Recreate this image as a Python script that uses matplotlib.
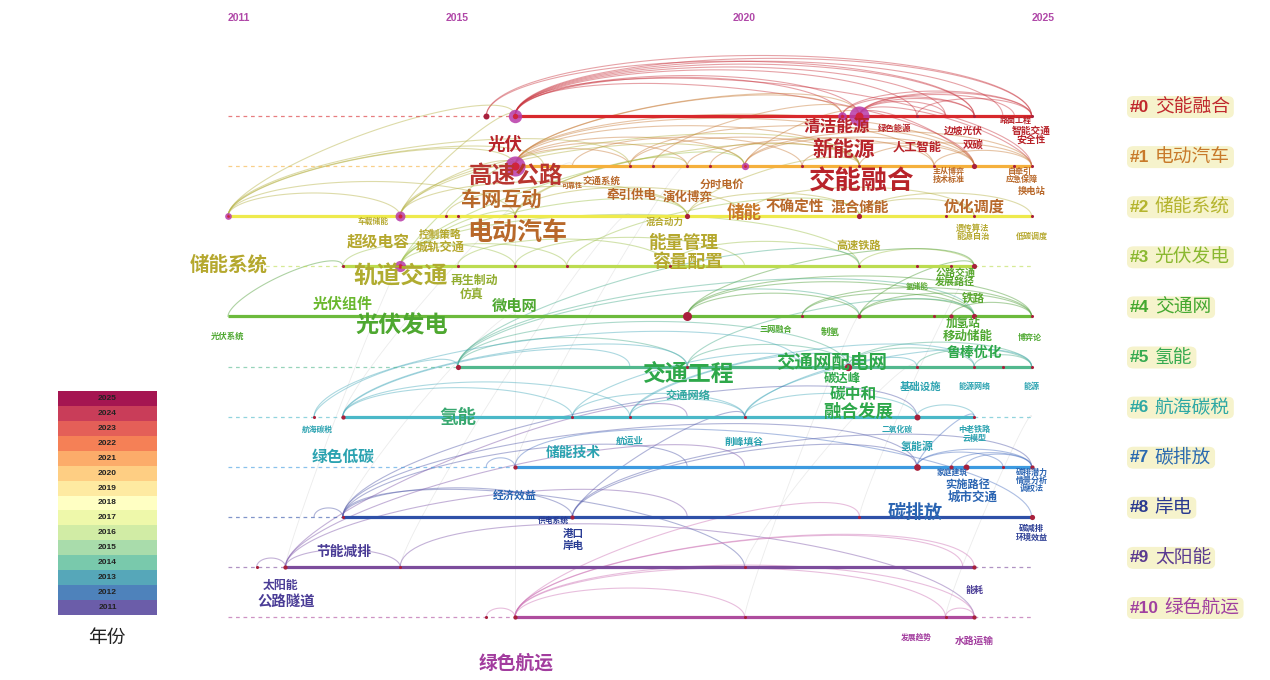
import numpy as np
import matplotlib.pyplot as plt
from matplotlib.patches import FancyBboxPatch

plt.rcParams['font.family'] = ['Noto Sans CJK SC', 'DejaVu Sans']

# ---- data -------------------------------------------------------------
years = list(range(2011, 2026))
axis_years = [2011, 2015, 2020, 2025]

cluster_names = ['交能融合', '电动汽车', '储能系统', '光伏发电', '交通网', '氢能',
                 '航海碳税', '碳排放', '岸电', '太阳能', '绿色航运']
# solid part of each timeline (first / last active year)
cluster_start = [2016, 2016, 2011, 2013, 2011, 2015, 2013, 2016, 2013, 2012, 2016]
cluster_end = [2025, 2025, 2025, 2024, 2025, 2025, 2024, 2025, 2025, 2024, 2024]

# nodes: (cluster, year, frequency, centrality)
nodes = [
    (0, 2015.5, 4, 0), (0, 2016, 20, 0.3), (0, 2021.7, 8, 0.2), (0, 2022, 45, 0.4),
    (0, 2023, 1, 0), (0, 2024, 1, 0), (0, 2025, 1, 0),
    (1, 2016, 45, 0.35), (1, 2018, 1, 0), (1, 2018.4, 1, 0), (1, 2019, 1, 0),
    (1, 2019.4, 1, 0), (1, 2020, 6, 0.15), (1, 2021, 1, 0), (1, 2022, 1, 0),
    (1, 2023.3, 1, 0), (1, 2024, 3, 0), (1, 2024.7, 1, 0), (1, 2025, 1, 0),
    (2, 2011, 5, 0.15), (2, 2014, 11, 0.2), (2, 2014.8, 1, 0), (2, 2015, 1, 0),
    (2, 2016, 1, 0), (2, 2019, 3, 0), (2, 2022, 3, 0), (2, 2023.5, 1, 0),
    (2, 2024, 1, 0), (2, 2025, 1, 0),
    (3, 2013, 1, 0), (3, 2014, 14, 0.25), (3, 2015, 1, 0), (3, 2016, 1, 0),
    (3, 2016.9, 1, 0), (3, 2018.7, 1, 0), (3, 2022, 1, 0), (3, 2023, 1, 0),
    (3, 2023.6, 1, 0), (3, 2024, 3, 0),
    (4, 2019, 9, 0), (4, 2021, 1, 0), (4, 2022, 2, 0), (4, 2023.3, 1, 0),
    (4, 2023.6, 2, 0), (4, 2024, 3, 0), (4, 2025, 1, 0),
    (5, 2015, 3, 0), (5, 2019, 1, 0), (5, 2021.8, 6, 0), (5, 2023, 1, 0),
    (5, 2024, 1, 0), (5, 2024.5, 1, 0), (5, 2025, 1, 0),
    (6, 2012.5, 1, 0), (6, 2013, 2, 0), (6, 2017, 1, 0), (6, 2018, 1, 0),
    (6, 2020, 1, 0), (6, 2023, 4, 0), (6, 2024, 1, 0),
    (7, 2016, 2, 0), (7, 2023, 5, 0), (7, 2023.6, 2, 0), (7, 2023.85, 4, 0),
    (7, 2024.5, 1, 0), (7, 2025, 2, 0),
    (8, 2013, 1, 0), (8, 2017, 2, 0), (8, 2022, 1, 0), (8, 2025, 3, 0),
    (9, 2011.5, 1, 0), (9, 2012, 2, 0), (9, 2014, 1, 0), (9, 2020, 1, 0), (9, 2024, 2, 0),
    (10, 2015.5, 1, 0), (10, 2016, 2, 0), (10, 2020, 1, 0), (10, 2023.5, 1, 0), (10, 2024, 2, 0),
]

# co-occurrence links: (cluster_a, year_a, cluster_b, year_b)
links = [
    (0, 2015.5, 0, 2025), (0, 2016, 0, 2025), (0, 2016, 0, 2024.5), (0, 2016, 0, 2024),
    (0, 2016, 0, 2023), (0, 2016, 0, 2022), (0, 2016, 0, 2021.7), (0, 2016, 1, 2024),
    (0, 2022, 0, 2025), (0, 2022, 0, 2024.7), (0, 2022, 0, 2024), (0, 2022, 0, 2023.5),
    (0, 2021.7, 0, 2025), (0, 2021.7, 0, 2024), (0, 2023, 0, 2025), (0, 2022, 1, 2025),
    (0, 2022, 1, 2024), (0, 2016, 1, 2025), (0, 2016, 0, 2023.5), (0, 2015.5, 0, 2024),
    (1, 2016, 0, 2022), (1, 2016, 1, 2020), (1, 2016, 1, 2022), (1, 2016, 1, 2024),
    (1, 2016, 1, 2018), (1, 2016, 1, 2019), (1, 2017, 1, 2021), (1, 2018, 1, 2022),
    (1, 2019, 1, 2022), (1, 2019.4, 1, 2023.3), (1, 2020, 0, 2022), (1, 2020, 1, 2024),
    (1, 2020, 1, 2025), (1, 2021, 1, 2024), (1, 2022, 1, 2025), (1, 2023.3, 1, 2025),
    (1, 2018.4, 0, 2022), (1, 2016, 0, 2021.7), (1, 2016, 1, 2023.3), (1, 2018, 1, 2024),
    (2, 2011, 1, 2016), (2, 2011, 0, 2016), (2, 2011, 2, 2014), (2, 2011, 1, 2018),
    (2, 2011, 2, 2016), (2, 2014, 1, 2016), (2, 2014, 0, 2016), (2, 2014, 1, 2020),
    (2, 2014, 2, 2019), (2, 2014, 1, 2022), (2, 2014.8, 2, 2019), (2, 2016, 2, 2020),
    (2, 2016, 1, 2019), (2, 2016, 1, 2022), (2, 2019, 2, 2022), (2, 2019, 1, 2022),
    (2, 2020, 2, 2024), (2, 2022, 2, 2024), (2, 2022, 2, 2025), (2, 2011, 1, 2016.5),
    (3, 2014, 1, 2016), (3, 2014, 2, 2016), (3, 2014, 3, 2016.9), (3, 2014, 2, 2019),
    (3, 2014, 3, 2022), (3, 2013, 3, 2016), (3, 2015, 3, 2018.7), (3, 2016, 3, 2020),
    (3, 2018.7, 3, 2022), (3, 2022, 3, 2024), (3, 2014, 1, 2020), (3, 2016.9, 2, 2022),
    (4, 2011, 3, 2013), (4, 2019, 4, 2024), (4, 2019, 4, 2025), (4, 2019, 4, 2022),
    (4, 2021, 4, 2024), (4, 2021, 4, 2025), (4, 2022, 4, 2024), (4, 2022, 4, 2025),
    (4, 2023.6, 4, 2025), (4, 2019, 3, 2024), (4, 2022, 3, 2024),
    (5, 2015, 4, 2022), (5, 2015, 3, 2022), (5, 2015, 4, 2024),
    (5, 2015, 5, 2019), (5, 2015, 5, 2021.8), (5, 2019, 5, 2021.8), (5, 2021.8, 5, 2024),
    (5, 2021.8, 5, 2025), (5, 2023, 5, 2025), (5, 2024, 5, 2025), (5, 2019, 4, 2024),
    (6, 2012.5, 5, 2015), (6, 2013, 5, 2019), (6, 2012.5, 5, 2021),
    (6, 2013, 6, 2017), (6, 2013, 6, 2018), (6, 2017, 6, 2020), (6, 2018, 6, 2020),
    (6, 2020, 6, 2023), (6, 2018, 5, 2022), (6, 2017, 5, 2021), (6, 2023, 6, 2024),
    (6, 2018, 5, 2024), (6, 2013, 5, 2018), (6, 2020, 5, 2023), (6, 2020, 5, 2025),
    (7, 2015.5, 7, 2016), (7, 2023, 7, 2025), (7, 2023, 7, 2024.5), (7, 2023.6, 7, 2025),
    (7, 2023.85, 7, 2025), (7, 2023, 6, 2024), (7, 2016, 8, 2025),
    (8, 2017, 7, 2023), (8, 2013, 8, 2017), (8, 2012.5, 8, 2013), (8, 2013, 7, 2023),
    (8, 2013, 6, 2023), (8, 2013, 7, 2019), (8, 2017, 6, 2020), (8, 2017, 7, 2025),
    (8, 2013, 9, 2020),
    (9, 2011.5, 9, 2012), (9, 2012, 9, 2014), (9, 2012, 7, 2020), (9, 2012, 8, 2019),
    (9, 2012, 6, 2019), (9, 2014, 10, 2024),
    (10, 2015.5, 10, 2016), (10, 2016, 10, 2020), (10, 2016, 10, 2024), (10, 2016, 9, 2024),
    (10, 2016, 9, 2023.8), (10, 2016, 10, 2023.5), (10, 2023.5, 10, 2024), (10, 2016, 8, 2022),
]

# weak links drawn very faintly in grey
faint_links = [
    (10, 2016, 2, 2016), (9, 2012, 3, 2014), (8, 2013, 4, 2016), (10, 2020, 4, 2022),
    (9, 2020, 5, 2023), (8, 2022, 3, 2024), (7, 2016, 1, 2019), (9, 2014, 2, 2018),
    (10, 2023.5, 6, 2025), (6, 2013, 1, 2017),
]

# keywords: (text, cluster, year)
keywords = [
    ('光伏', 0, 2015.83), ('清洁能源', 0, 2021.61), ('绿色能源', 0, 2022.62), ('新能源', 0, 2021.73),
    ('人工智能', 0, 2023.0), ('边坡光伏', 0, 2023.82), ('双碳', 0, 2023.98), ('路面工程', 0, 2024.73),
    ('智能交通', 0, 2024.99), ('安全性', 0, 2024.99), ('交能融合', 0, 2022.03),
    ('高速公路', 1, 2016.02), ('可靠性', 1, 2016.99), ('交通系统', 1, 2017.5), ('车网互动', 1, 2015.76),
    ('牵引供电', 1, 2018.02), ('演化博弈', 1, 2019.01), ('分时电价', 1, 2019.6), ('储能', 1, 2020.0),
    ('不确定性', 1, 2020.88), ('混合储能', 1, 2022.0), ('主从博弈', 1, 2023.56), ('技术标准', 1, 2023.56),
    ('自牵引', 1, 2024.8), ('应急保障', 1, 2024.83), ('换电站', 1, 2025.0), ('优化调度', 1, 2024.0),
    ('电动汽车', 1, 2016.03),
    ('车载储能', 2, 2013.53), ('超级电容', 2, 2013.61), ('控制策略', 2, 2014.7), ('城轨交通', 2, 2014.69),
    ('混合动力', 2, 2018.6), ('能量管理', 2, 2018.93), ('容量配置', 2, 2019.01), ('高速铁路', 2, 2021.99),
    ('遗传算法', 2, 2023.98), ('能源自治', 2, 2023.98), ('低碳调度', 2, 2025.0), ('储能系统', 2, 2011.02),
    ('轨道交通', 3, 2014.0), ('再生制动', 3, 2015.3), ('仿真', 3, 2015.25), ('公路交通', 3, 2023.67),
    ('发展路径', 3, 2023.67), ('铁路', 3, 2023.98), ('氢储能', 3, 2023.0),
    ('光伏组件', 4, 2013.0), ('微电网', 4, 2016.0), ('光伏发电', 4, 2014.03), ('光伏系统', 4, 2011.0),
    ('三网融合', 4, 2020.55), ('制氢', 4, 2021.49), ('加氢站', 4, 2023.8), ('移动储能', 4, 2023.89),
    ('博弈论', 4, 2024.97),
    ('交通工程', 5, 2019.03), ('交通网配电网', 5, 2021.52), ('碳达峰', 5, 2021.7), ('碳中和', 5, 2021.89),
    ('融合发展', 5, 2021.98), ('交通网络', 5, 2019.01), ('基础设施', 5, 2023.07), ('能源网络', 5, 2024.0),
    ('能源', 5, 2025.0), ('鲁棒优化', 5, 2024.01),
    ('航海碳税', 6, 2012.55), ('氢能', 6, 2015.01), ('航运业', 6, 2017.99), ('削峰填谷', 6, 2020.0),
    ('二氧化碳', 6, 2022.66), ('中老铁路', 6, 2024.0), ('云模型', 6, 2024.0), ('氢能源', 6, 2023.0),
    ('绿色低碳', 6, 2013.0), ('储能技术', 6, 2017.01),
    ('经济效益', 7, 2016.0), ('家庭建筑', 7, 2023.61), ('实施路径', 7, 2023.89), ('城市交通', 7, 2023.98),
    ('碳排潜力', 7, 2025.0), ('情景分析', 7, 2025.0), ('调权法', 7, 2025.0),
    ('供电系统', 8, 2016.66), ('港口', 8, 2017.01), ('岸电', 8, 2017.01), ('碳排放', 8, 2022.97),
    ('碳减排', 8, 2025.0), ('环境效益', 8, 2025.0),
    ('节能减排', 9, 2013.02), ('太阳能', 9, 2011.91), ('公路隧道', 9, 2012.01), ('能耗', 9, 2024.0),
    ('绿色航运', 10, 2016.02), ('发展趋势', 10, 2023.0), ('水路运输', 10, 2024.0),
]

# ---- layout / style ---------------------------------------------------
X0_PX, YEAR_PX = 228, 57.4       # pixel of 2011, pixels per year
LANE0_PX, LANE_PX = 116, 50.1    # pixel of lane 0, pixels between lanes
W, H = 1270, 680

# label offset below the lane (px) and font size (pt)
kw_place = {
    '光伏': (29, 12.6), '清洁能源': (11, 12), '绿色能源': (12, 6), '新能源': (33, 15),
    '人工智能': (31, 8.8), '边坡光伏': (15, 7), '双碳': (28, 7.5), '路面工程': (4, 5.8),
    '智能交通': (15, 7), '安全性': (25, 7), '交能融合': (66, 19),
    '高速公路': (10, 17), '可靠性': (19, 5), '交通系统': (15, 6.8), '车网互动': (33, 14.5),
    '牵引供电': (29, 9), '演化博弈': (31, 9), '分时电价': (18, 8), '储能': (47, 12.6),
    '不确定性': (40, 10.5), '混合储能': (41, 10.5), '主从博弈': (5, 5.8), '技术标准': (13, 5.8),
    '自牵引': (5, 5.8), '应急保障': (13, 5.8), '换电站': (25, 6.7), '优化调度': (41, 11),
    '电动汽车': (67, 18),
    '车载储能': (5, 5.6), '超级电容': (25, 11.3), '控制策略': (18, 7.7), '城轨交通': (31, 8.8),
    '混合动力': (6, 6.8), '能量管理': (27, 12.6), '容量配置': (46, 12.8), '高速铁路': (29, 8),
    '遗传算法': (12, 6), '能源自治': (20, 6), '低碳调度': (20, 5.8), '储能系统': (49, 14),
    '轨道交通': (10, 17), '再生制动': (14, 8.6), '仿真': (28, 8.6), '公路交通': (6, 7.2),
    '发展路径': (16, 7.2), '铁路': (32, 8.3), '氢储能': (20, 5.5),
    '光伏组件': (-12, 10.8), '微电网': (-10, 11), '光伏发电': (10, 16.7), '光伏系统': (20, 6),
    '三网融合': (13, 5.9), '制氢': (15, 6.8), '加氢站': (7, 8.4), '移动储能': (20, 9),
    '博弈论': (21, 5.8),
    '交通工程': (8, 16.5), '交通网配电网': (-4, 13.3), '碳达峰': (12, 8.9), '碳中和': (27, 11.3),
    '融合发展': (45, 12.6), '交通网络': (29, 8.1), '基础设施': (20, 7.5), '能源网络': (20, 5.8),
    '能源': (20, 5.8), '鲁棒优化': (-14, 10),
    '航海碳税': (13, 5.6), '氢能': (1, 13.3), '航运业': (25, 6.7), '削峰填谷': (25, 7),
    '二氧化碳': (13, 5.6), '中老铁路': (13, 5.8), '云模型': (22, 5.8), '氢能源': (30, 7.9),
    '绿色低碳': (40, 11.3), '储能技术': (36, 9.9),
    '经济效益': (29, 7.9), '家庭建筑': (6, 5.6), '实施路径': (18, 8.1), '城市交通': (31, 9),
    '碳排潜力': (6, 5.8), '情景分析': (14, 5.8), '调权法': (22, 5.8),
    '供电系统': (4, 5.6), '港口': (17, 7.6), '岸电': (29, 7.6), '碳排放': (-4, 13.2),
    '碳减排': (12, 6), '环境效益': (20, 5.8),
    '节能减排': (-15, 9.9), '太阳能': (19, 8.6), '公路隧道': (35, 10.4), '能耗': (24, 6.5),
    '绿色航运': (46, 13.5), '发展趋势': (20, 5.6), '水路运输': (24, 7),
}
kw_color_override = {
    '高速公路': '#b83530', '轨道交通': '#b0ac30', '公路交通': '#5aa830', '发展路径': '#5aa830',
    '铁路': '#5aa830', '氢储能': '#5aa830', '交通网络': '#30a8a0', '基础设施': '#2aa2b0',
    '能源网络': '#2aa2b0', '能源': '#2aa2b0', '氢能': '#38a870', '碳排放': '#2a64b2',
    '光伏组件': '#6ab82e', '储能': '#c8782a',
}

text_c = ['#b8232a', '#b8682a', '#b5a82e', '#92ad30', '#4ea830', '#2ea84a',
          '#2aa2b0', '#2a64b2', '#2a3c94', '#4a3c96', '#a23c9e']
line_c = ['#d8282c', '#f5b03c', '#eeea4c', '#bcdc50', '#6cba3c', '#52b88e',
          '#4ab8c8', '#3c9ae0', '#2e50a8', '#7c4c9c', '#ae4c9e']
link_c = ['#c8323c', '#c87c38', '#b4b040', '#9cc048', '#4c9c34', '#48ac8c',
          '#48aabc', '#4a70c0', '#5058a8', '#7c54a8', '#cc70b4']
legend_c = ['#c0282d', '#c87a2a', '#b4b42e', '#8ab830', '#44a830', '#36aa50',
            '#2ea8a4', '#2a6ab0', '#2a3a90', '#5a3a90', '#a040a0']

fig = plt.figure(figsize=(W / 100, H / 100), dpi=100)
ax = fig.add_axes([0, 0, 1, 1])
ax.set_xlim(2011 - X0_PX / YEAR_PX, 2011 + (W - X0_PX) / YEAR_PX)
ax.set_ylim((H - LANE0_PX) / LANE_PX, -LANE0_PX / LANE_PX)
ax.axis('off')


def draw_arc(xa, ya, xb, yb, color, lw=0.8, alpha=0.45):
    th = np.linspace(0, np.pi, 60)
    s = (1 - np.cos(th)) / 2
    h = (0.1 * abs(xb - xa) * YEAR_PX + 6) / LANE_PX
    x = xa + (xb - xa) * s
    y = ya + (yb - ya) * s - h * np.sin(th)
    ax.plot(x, y, color=color, lw=lw, alpha=alpha, zorder=1)


for ca, ya, cb, yb in faint_links:
    draw_arc(ya, ca, yb, cb, '#c8c8c8', lw=0.6, alpha=0.35)
for ca, ya, cb, yb in links:
    draw_arc(ya, ca, yb, cb, link_c[ca])

# timelines
for k in range(len(cluster_names)):
    c = line_c[k]
    if cluster_start[k] > years[0]:
        ax.plot([years[0], cluster_start[k]], [k, k], color=c, lw=0.9, alpha=0.6,
                ls=(0, (3, 3)), zorder=2)
    ax.plot([cluster_start[k], cluster_end[k]], [k, k], color=c, lw=2.3, zorder=2,
            solid_capstyle='butt')
    if cluster_end[k] < years[-1]:
        ax.plot([cluster_end[k], years[-1]], [k, k], color=c, lw=0.9, alpha=0.6,
                ls=(0, (3, 3)), zorder=2)

# nodes
for cl, yr, freq, cent in nodes:
    r = 1.5 * np.sqrt(freq)           # radius in px
    s = (2 * r * 0.72) ** 2
    if cent > 0.1:
        ax.scatter(yr, cl, s=s, color='#b83aa8', alpha=0.85, lw=0, zorder=3)
        ax.scatter(yr, cl, s=s * 0.16, color='#d0243c', lw=0, zorder=4)
    else:
        ax.scatter(yr, cl, s=max(s, 5), color='#a8203c', lw=0, zorder=3)

# keyword labels
for text, cl, yr in keywords:
    dy, size = kw_place[text]
    color = kw_color_override.get(text, text_c[cl])
    ax.text(yr, cl + dy / LANE_PX, text, fontsize=size, color=color, ha='center',
            va='center', fontweight='bold', zorder=5)

# year axis at the top
for yr in axis_years:
    ax.text(yr, (18 - LANE0_PX) / LANE_PX, str(yr), fontsize=7.5, color='#b048a8',
            fontweight='bold', family=['Liberation Sans', 'DejaVu Sans'],
            ha='left' if yr in (2011, 2025) else 'center', va='center')

# cluster legend on the right
x_leg = 2011 + (1130 - X0_PX) / YEAR_PX
legend_items = []
for k, name in enumerate(cluster_names):
    yk = k - 9 / LANE_PX
    t1 = ax.text(x_leg, yk, f'#{k}', fontsize=12.5, color=legend_c[k], ha='left', va='center',
                 fontweight='bold', family=['Liberation Sans', 'DejaVu Sans'], zorder=6)
    t2 = ax.annotate(name, xy=(1, 0.5), xycoords=t1, xytext=(4, 0), textcoords='offset points',
                     fontsize=13.5, color=legend_c[k], ha='left', va='center', zorder=6)
    legend_items.append((t1, t2))

fig.canvas.draw()
renderer = fig.canvas.get_renderer()
inv = ax.transData.inverted()
for t1, t2 in legend_items:
    b1 = t1.get_window_extent(renderer)
    b2 = t2.get_window_extent(renderer)
    yc = (b1.y0 + b1.y1) / 2
    (x0, y0), (x1, y1) = inv.transform([(b1.x0 - 3, yc - 11), (b2.x1 + 4, yc + 11)])
    ax.add_patch(FancyBboxPatch((x0, y1), x1 - x0, y0 - y1,
                                boxstyle='round,pad=0,rounding_size=0.12',
                                mutation_aspect=LANE_PX / YEAR_PX,
                                fc='#f6f3cc', ec='none', zorder=0.5))

# year colour legend
cax = fig.add_axes([58 / W, (H - 615) / H, 99 / W, 224 / H])
cmap = plt.get_cmap('Spectral')
for i, yr in enumerate(years):
    cax.barh(i, 1, height=1, color=cmap(1 - i / (len(years) - 1)), alpha=0.92)
    cax.text(0.5, i, str(yr), ha='center', va='center', fontsize=6, fontweight='bold',
             color='#222222', family=['Liberation Sans', 'DejaVu Sans'])
cax.set_xlim(0, 1)
cax.set_ylim(-0.5, len(years) - 0.5)
cax.axis('off')
fig.text(107 / W, 1 - 637 / H, '年份', fontsize=13.5, ha='center', va='center', color='#222222')

fig.savefig('out.png', dpi=100)
